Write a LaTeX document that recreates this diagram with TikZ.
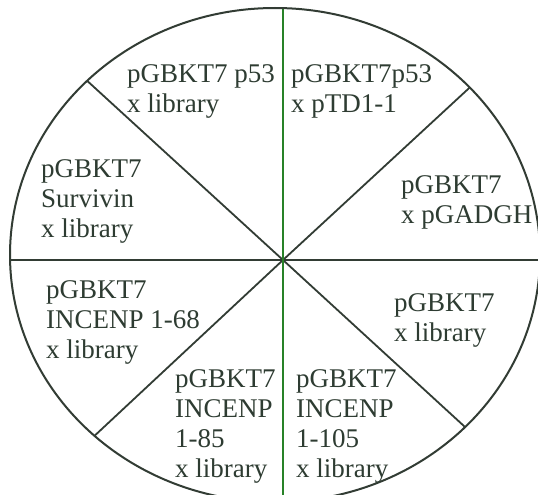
\documentclass[tikz,border=0pt]{standalone}
\usepackage{fontspec}
\setmainfont{Liberation Serif}
\definecolor{inkc}{RGB}{46,60,50}
\definecolor{linec}{RGB}{50,60,52}
\definecolor{vgreen}{RGB}{40,130,40}
\begin{document}
\begin{tikzpicture}[x=1pt,y=-1pt,
  lbl/.style={anchor=north west, align=left, inner sep=0pt, text=inkc, font=\fontsize{27}{30}\selectfont},
  rim/.style={draw=linec, line width=2pt},
  spoke/.style={draw=linec, line width=1.8pt},
  vspoke/.style={draw=vgreen, line width=1.8pt}]
\useasboundingbox (0,0) rectangle (538,495);
\fill[white] (0,0) rectangle (538,495);
\clip (0,0) rectangle (538,495);
\coordinate (c) at (283,260);
\coordinate (ul) at (48,45);
\coordinate (ur) at (506,54);
\coordinate (ll) at (60,468);
\coordinate (lr) at (501,460);
\coordinate (lt) at (-20,260);
\coordinate (rt) at (580,260);
\coordinate (tp) at (283,-20);
\coordinate (bt) at (283,520);
\begin{scope}
  \clip (275,255) ellipse [x radius=265pt, y radius=247pt];
  \draw[spoke] (c) -- (ul);
  \draw[spoke] (c) -- (ur);
  \draw[spoke] (c) -- (ll);
  \draw[spoke] (c) -- (lr);
  \draw[spoke] (lt) -- (rt);
  \draw[vspoke] (tp) -- (bt);
\end{scope}
\draw[rim] (275,255) ellipse [x radius=265pt, y radius=247pt];
\node[lbl] (t1) at (127,64) {pGBKT7 p53\\x library};
\node[lbl] (t2) at (291,64) {pGBKT7p53\\x pTD1-1};
\node[lbl] (t3) at (401,175) {pGBKT7\\x pGADGH};
\node[lbl] (t4) at (41,159) {pGBKT7\\Survivin\\x library};
\node[lbl] (t5) at (46,280) {pGBKT7\\INCENP 1-68\\x library};
\node[lbl] (t6) at (394,293) {pGBKT7\\x library};
\node[lbl] (t7) at (175,369) {pGBKT7\\INCENP\\1-85\\x library};
\node[lbl] (t8) at (296,369) {pGBKT7\\INCENP\\1-105\\x library};
\end{tikzpicture}
\end{document}
